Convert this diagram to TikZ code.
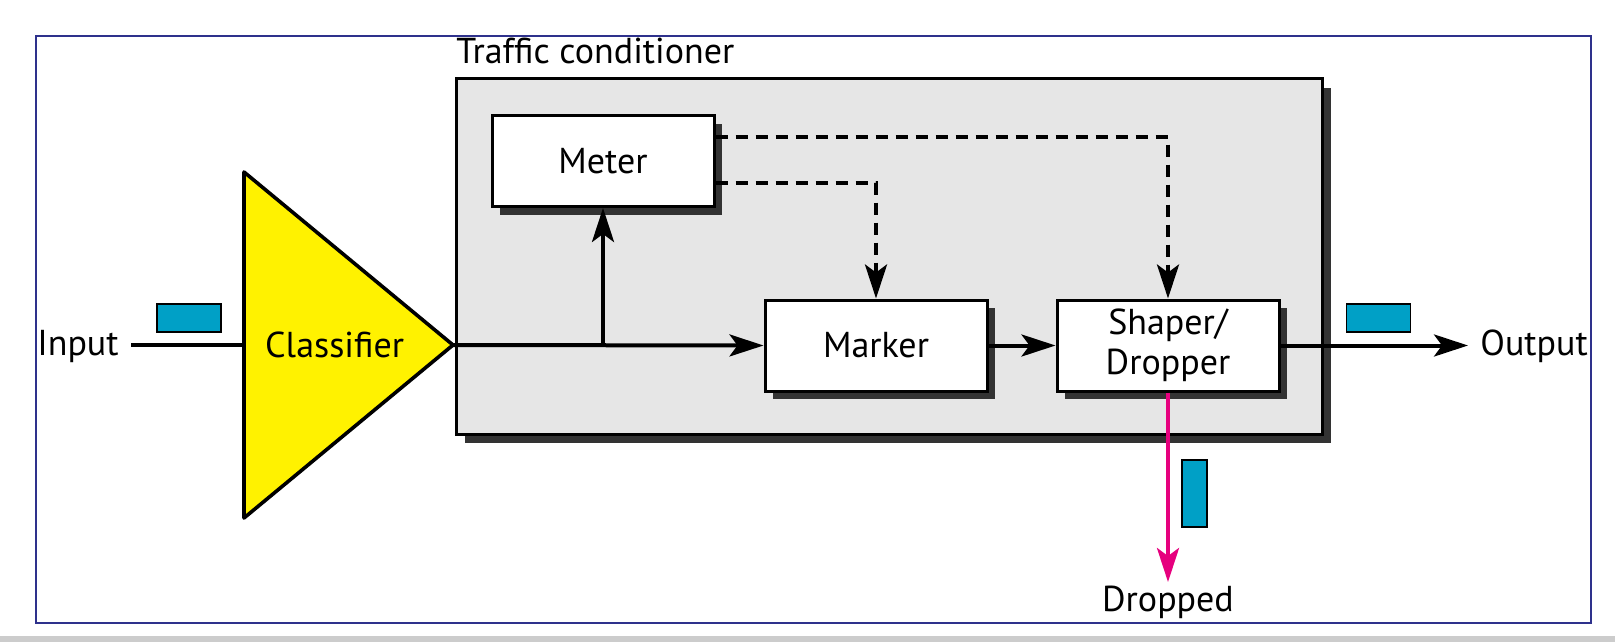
\documentclass[tikz,border=0pt]{standalone}
\usepackage{fontspec}
\setmainfont{PT Sans}
\usetikzlibrary{arrows.meta,shapes.geometric,shadows}
\definecolor{framenavy}{RGB}{46,49,140}
\definecolor{packetblue}{RGB}{0,160,198}
\definecolor{dropmagenta}{RGB}{230,0,126}
\definecolor{shadowgray}{RGB}{51,51,51}
\definecolor{condgray}{RGB}{230,230,230}
\begin{document}
\begin{tikzpicture}[
        x=0.5pt, y=-0.5pt,
        every node/.style={font=\fontsize{18}{21}\selectfont},
        box/.style={draw, fill=white, line width=1.5pt, minimum width=111pt, minimum height=45.5pt, align=center,
            drop shadow={shadow xshift=4pt, shadow yshift=-4pt, fill=shadowgray, opacity=1}},
        packet/.style={draw, line width=0.8pt, fill=packetblue, inner sep=0pt},
        flow/.style={draw, line width=2pt, -{Stealth[length=17pt, width=11pt, inset=4pt]}},
        ctrl/.style={flow, dash pattern=on 6pt off 4pt},
        io/.style={inner sep=6pt, yshift=-2.5pt},
    ]
    \useasboundingbox (0,0) rectangle (1615,642);
    \fill[gray!40] (0,636) rectangle (1615,642);
    \draw[framenavy, line width=1pt] (36,36) rectangle (1591,623);

    % traffic conditioner
    \node[draw, fill=condgray, line width=1.5pt, minimum width=433pt, minimum height=177.5pt,
        drop shadow={shadow xshift=4.5pt, shadow yshift=-4.5pt, fill=shadowgray, opacity=1}] (cond) at (889,256.5) {};
    \node[anchor=base west, inner sep=0pt] (title) at (456,64) {Traffic conditioner};
    \node[box] (meter) at (603,161) {Meter};
    \node[box] (marker) at (876,345.5) {Marker};
    \node[box] (shaper) at (1168,345.5) {Shaper/\\[-1pt]Dropper};

    \node[draw, fill=yellow, line width=1.8pt, line join=round, isosceles triangle, isosceles triangle stretches,
        minimum height=104.5pt, minimum width=173pt, inner sep=0pt, outer sep=0pt, anchor=apex] (classifier) at (453,345) {Classifier};

    \node[io, anchor=mid east] (input) at (131,345) {Input};
    \node[io, anchor=mid west] (output) at (1468,345) {Output};
    \node[anchor=north, inner sep=2pt] (dropped) at (1168,582) {Dropped};

    \node[packet, minimum width=32pt, minimum height=14pt] (pktin) at (189,318) {};
    \node[packet, minimum width=32pt, minimum height=14pt] (pktout) at (1378.5,318) {};
    \node[packet, minimum width=12.5pt, minimum height=33.5pt] (pktdrop) at (1194.5,493.5) {};

    \coordinate (branch) at (meter.south |- classifier.apex);
    \draw[line width=2pt] (input.mid east |- classifier.apex) -- (classifier.lower side);
    \draw[flow] (classifier.apex) -- (marker.west);
    \draw[flow] (branch) -- (meter.south);
    \draw[ctrl] ([yshift=12pt]meter.east) -| (shaper.north);
    \draw[ctrl] ([yshift=-11pt]meter.east) -| (marker.north);
    \draw[flow] (marker.east) -- (shaper.west);
    \draw[flow] (shaper.east) -- (output.mid west |- shaper.east);
    \draw[flow, dropmagenta] (shaper.south) -- (dropped.north);
\end{tikzpicture}
\end{document}
